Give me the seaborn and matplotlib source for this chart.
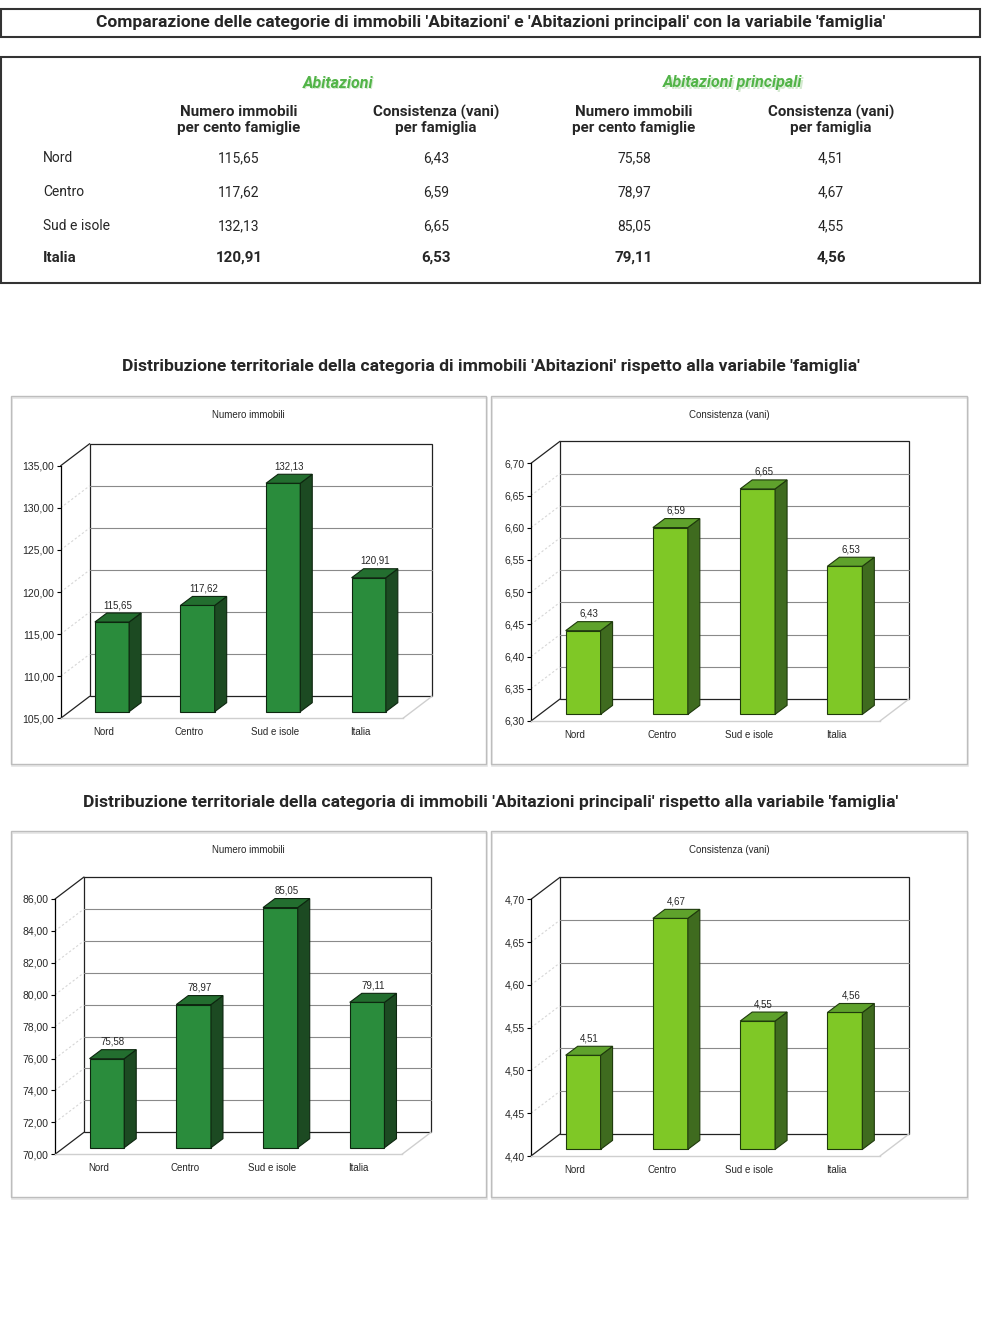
import numpy as np
import matplotlib
matplotlib.use('Agg')
import matplotlib.pyplot as plt
import seaborn as sns
from matplotlib.patches import Rectangle, Polygon

# dati
regioni = ['Nord', 'Centro', 'Sud e isole', 'Italia']
abit_numero = [115.65, 117.62, 132.13, 120.91]
abit_vani = [6.43, 6.59, 6.65, 6.53]
princ_numero = [75.58, 78.97, 85.05, 79.11]
princ_vani = [4.51, 4.67, 4.55, 4.56]

titolo = "Comparazione delle categorie di immobili 'Abitazioni' e 'Abitazioni principali' con la variabile 'famiglia'"
titolo_abit = "Distribuzione territoriale della categoria di immobili 'Abitazioni' rispetto alla variabile 'famiglia'"
titolo_princ = "Distribuzione territoriale della categoria di immobili 'Abitazioni principali' rispetto alla variabile 'famiglia'"
gruppi = ['Abitazioni', 'Abitazioni principali']
intestazioni = ['Numero immobili\nper cento famiglie', 'Consistenza (vani)\nper famiglia']
sottotitoli = ['Numero immobili', 'Consistenza (vani)']

W, H = 982, 1322
sns.set_style('white')
plt.rcParams['font.family'] = ['Roboto', 'DejaVu Sans']
fig = plt.figure(figsize=(W / 100, H / 100), dpi=100)


def fx(x):
    return x / W


def fy(y):
    return 1 - y / H


def fmt(v):
    return f'{v:.2f}'.replace('.', ',')


# sfondo in pixel per riquadri e testi
bg = fig.add_axes([0, 0, 1, 1])
bg.set_xlim(0, W)
bg.set_ylim(H, 0)
bg.axis('off')

bg.add_patch(Rectangle((1, 9), 979, 28, fill=False, ec='#333333', lw=1.5))
bg.text(491, 23, titolo, ha='center', va='center', fontsize=12.5, fontweight='bold')

# tabella
bg.add_patch(Rectangle((1, 57), 979, 226, fill=False, ec='#333333', lw=1.5))
col_x = [239, 436, 634, 831]
for gx, g in zip([338, 733], gruppi):
    bg.text(gx + 1.2, 84.2, g, ha='center', va='center', fontsize=11.5, fontweight='bold',
            style='italic', color='#d4ead0')
    bg.text(gx, 83, g, ha='center', va='center', fontsize=11.5, fontweight='bold',
            style='italic', color='#52b448')
for i, cx in enumerate(col_x):
    bg.text(cx, 120, intestazioni[i % 2], ha='center', va='center', fontsize=10.9,
            fontweight='bold', linespacing=1.1)
colonne = [abit_numero, abit_vani, princ_numero, princ_vani]
righe_y = [158, 192, 226, 258]
for r, (nome, ry) in enumerate(zip(regioni, righe_y)):
    bold = nome == 'Italia'
    peso = 'bold' if bold else 'normal'
    fs = 10.9 if bold else 10
    bg.text(43, ry, nome, ha='left', va='center', fontsize=fs, fontweight=peso)
    for cx, col in zip(col_x, colonne):
        bg.text(cx, ry, fmt(col[r]), ha='center', va='center', fontsize=fs, fontweight=peso)

bg.text(491, 367, titolo_abit, ha='center', va='center', fontsize=12.6, fontweight='bold')
bg.text(491, 802, titolo_princ, ha='center', va='center', fontsize=12.6, fontweight='bold')

scuro = dict(front='#2a8c3c', side='#1c4a22', top='#236e2f', edge='#0d260f')
chiaro = dict(front='#7fc826', side='#3f6b1f', top='#5fa22c', edge='#1f3a0c')

BACK = (29, 22)     # profondita' della scatola (px)
SHIFT = (8.5, 6.6)  # posizione della faccia frontale delle barre
DEPTH = (12, 9)     # profondita' delle barre

grafici = [
    (abit_numero, 105, 135, 5, (60.7, 465.7, 403, 718.3), scuro, (11, 396, 486, 764), 0),
    (abit_vani, 6.30, 6.70, 0.05, (531, 463.3, 880, 721), chiaro, (491, 396, 967, 764), 1),
    (princ_numero, 70, 86, 2, (55, 899, 402, 1154.3), scuro, (11, 831, 486, 1197), 0),
    (princ_vani, 4.40, 4.70, 0.05, (531, 899.3, 880, 1156), chiaro, (491, 831, 967, 1197), 1),
]

etichetta = dict(family=['Liberation Sans', 'DejaVu Sans'])

for vals, lo, hi, step, box, pal, panel, k in grafici:
    px0, py0, px1, py1 = panel
    bg.add_patch(Rectangle((px0 + 1.5, py0 + 1.5), px1 - px0, py1 - py0, fill=False,
                           ec='#e4e4e4', lw=1.2))
    bg.add_patch(Rectangle((px0, py0), px1 - px0, py1 - py0, fill=False, ec='#bdbdbd', lw=1))
    bg.text((px0 + px1) / 2, py0 + 19, sottotitoli[k], ha='center', va='center',
            fontsize=7, **etichetta)

    L, T, R, B = box
    ax = fig.add_axes([fx(L), fy(B), (R - L) / W, (B - T) / H])
    sns.barplot(x=regioni, y=vals, ax=ax, color=pal['front'], width=0.4, saturation=1,
                edgecolor=pal['edge'], linewidth=0.8, zorder=4)
    ax.set_xlim(-0.5, 3.5)
    ax.set_ylim(lo, hi)
    ax.autoscale(False)
    ax.patch.set_alpha(0)
    ax.set_xlabel('')
    ax.set_ylabel('')

    tr = ax.transData
    inv = tr.inverted()

    def P(x, y, dx=0, dy=0):
        X, Y = tr.transform((x, y))
        return inv.transform((X + dx, Y + dy))

    ticks = np.round(np.arange(lo, hi + step / 2, step), 2)
    ax.set_yticks(ticks)
    ax.set_yticklabels([fmt(t) for t in ticks], fontsize=7.5, **etichetta)
    ax.tick_params(axis='y', direction='out', length=3, width=0.8, color='black', pad=1.5, left=True)
    ax.tick_params(axis='x', length=0, pad=6.5)
    for lab in ax.get_xticklabels():
        lab.set_fontsize(7)
        lab.set_family(['Liberation Sans', 'DejaVu Sans'])
    for s in ['top', 'right']:
        ax.spines[s].set_visible(False)
    ax.spines['left'].set_color('black')
    ax.spines['left'].set_linewidth(0.9)
    ax.spines['bottom'].set_color('#cfcfcf')
    ax.spines['bottom'].set_linewidth(1)

    bx, by = BACK
    # parete di fondo
    parete = [P(-0.5, lo, bx, by), P(3.5, lo, bx, by), P(3.5, hi, bx, by), P(-0.5, hi, bx, by)]
    ax.add_patch(Polygon(parete, closed=True, fill=False, ec='#222222', lw=0.9,
                         clip_on=False, zorder=1))
    for t in ticks[1:-1]:
        a, b = P(-0.5, t, bx, by), P(3.5, t, bx, by)
        ax.plot([a[0], b[0]], [a[1], b[1]], color='#8a8a8a', lw=0.8, clip_on=False, zorder=1)
        c = P(-0.5, t)
        ax.plot([c[0], a[0]], [c[1], a[1]], color='#d6d6d6', lw=0.8, ls=(0, (2, 2)),
                clip_on=False, zorder=1)
    for t in [lo, hi]:
        a, c = P(-0.5, t, bx, by), P(-0.5, t)
        ax.plot([c[0], a[0]], [c[1], a[1]], color='#222222', lw=0.9, clip_on=False, zorder=1)
    a, c = P(3.5, lo, bx, by), P(3.5, lo)
    ax.plot([c[0], a[0]], [c[1], a[1]], color='#cfcfcf', lw=1, clip_on=False, zorder=1)

    # barre 3D
    sx, sy = SHIFT
    dx, dy = DEPTH
    for p in ax.patches[:len(vals)]:
        x0, w, v = p.get_x(), p.get_width(), p.get_height()
        a = P(x0, lo, sx, sy)
        b = P(x0 + w, v, sx, sy)
        p.set_x(a[0])
        p.set_width(b[0] - a[0])
        p.set_y(a[1])
        p.set_height(b[1] - a[1])
        p.set_clip_on(False)
        side = [P(x0 + w, lo, sx, sy), P(x0 + w, lo, sx + dx, sy + dy),
                P(x0 + w, v, sx + dx, sy + dy), P(x0 + w, v, sx, sy)]
        top = [P(x0, v, sx, sy), P(x0 + w, v, sx, sy),
               P(x0 + w, v, sx + dx, sy + dy), P(x0, v, sx + dx, sy + dy)]
        ax.add_patch(Polygon(side, closed=True, fc=pal['side'], ec=pal['edge'], lw=0.8,
                             clip_on=False, zorder=4))
        ax.add_patch(Polygon(top, closed=True, fc=pal['top'], ec=pal['edge'], lw=0.8,
                             clip_on=False, zorder=4))
        lab = P(x0 + w / 2, v, sx + dx / 2, sy + dy + 3)
        ax.text(lab[0], lab[1], fmt(v), ha='center', va='bottom', fontsize=7,
                clip_on=False, zorder=5, **etichetta)

fig.savefig('out.png', dpi=100, facecolor='white')
